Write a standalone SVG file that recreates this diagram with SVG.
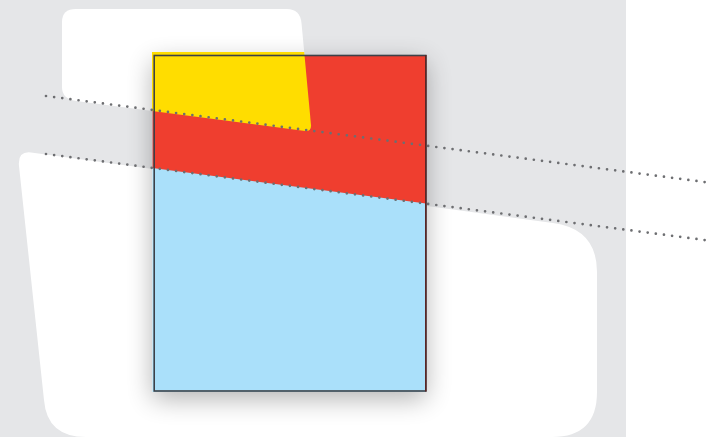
<svg xmlns="http://www.w3.org/2000/svg" width="715" height="437" viewBox="0 0 715 437">
  <style>
    .paper { fill: #ffffff; }
    .dots { fill: none; stroke: #6d6e71; stroke-width: 2.7; stroke-linecap: round; stroke-dasharray: 0 8.2; }
  </style>
  <defs>
    <path id="topShape" d="M 62,22 Q 62,9 76,9 L 287,9 Q 300,9 301.5,23 L 311,125 Q 311.6,131.6 305,131 L 76,101 Q 62,99 62,87 Z"/>
    <clipPath id="yellowClip">
      <rect x="152" y="52" width="300" height="200"/>
    </clipPath>
    <filter id="shadow" x="-40%" y="-40%" width="180%" height="180%">
      <feGaussianBlur in="SourceAlpha" stdDeviation="13"/>
      <feOffset dx="0" dy="7" result="b"/>
      <feComponentTransfer><feFuncA type="linear" slope="0.3"/></feComponentTransfer>
      <feMerge><feMergeNode/><feMergeNode in="SourceGraphic"/></feMerge>
    </filter>
  </defs>

  <rect id="background" x="0" y="0" width="626" height="437" fill="#e5e6e8"/>
  <rect x="626" y="0" width="89" height="437" fill="#ffffff"/>

  <g id="paper-top">
    <use href="#topShape" class="paper"/>
  </g>
  <g id="paper-bottom">
    <path class="paper" d="M 19,166 Q 17.5,151 31,152.5 L 553,223 Q 597,229 597,272 L 597,392 Q 597,437 552,437 L 86,437 Q 47,437 44,400 Z"/>
  </g>

  <g id="box">
    <rect x="152.5" y="55" width="273.5" height="337" fill="#aae0fa" filter="url(#shadow)"/>
    <polygon points="152.5,55 426,55 426,203.6 152.5,167.9" fill="#ef3e2f"/>
    <use href="#topShape" fill="#ffdd00" clip-path="url(#yellowClip)"/>
    <rect x="154.2" y="55.5" width="271.6" height="335.5" fill="none" stroke="#3d4148" stroke-width="1.6"/>
    <line x1="425.8" y1="55" x2="425.8" y2="391.5" stroke="#5a2626" stroke-width="1.6"/>
  </g>

  <g id="connectors">
    <line class="dots" x1="46" y1="96" x2="712" y2="183"/>
    <line class="dots" x1="46" y1="154" x2="712" y2="241"/>
  </g>
</svg>
